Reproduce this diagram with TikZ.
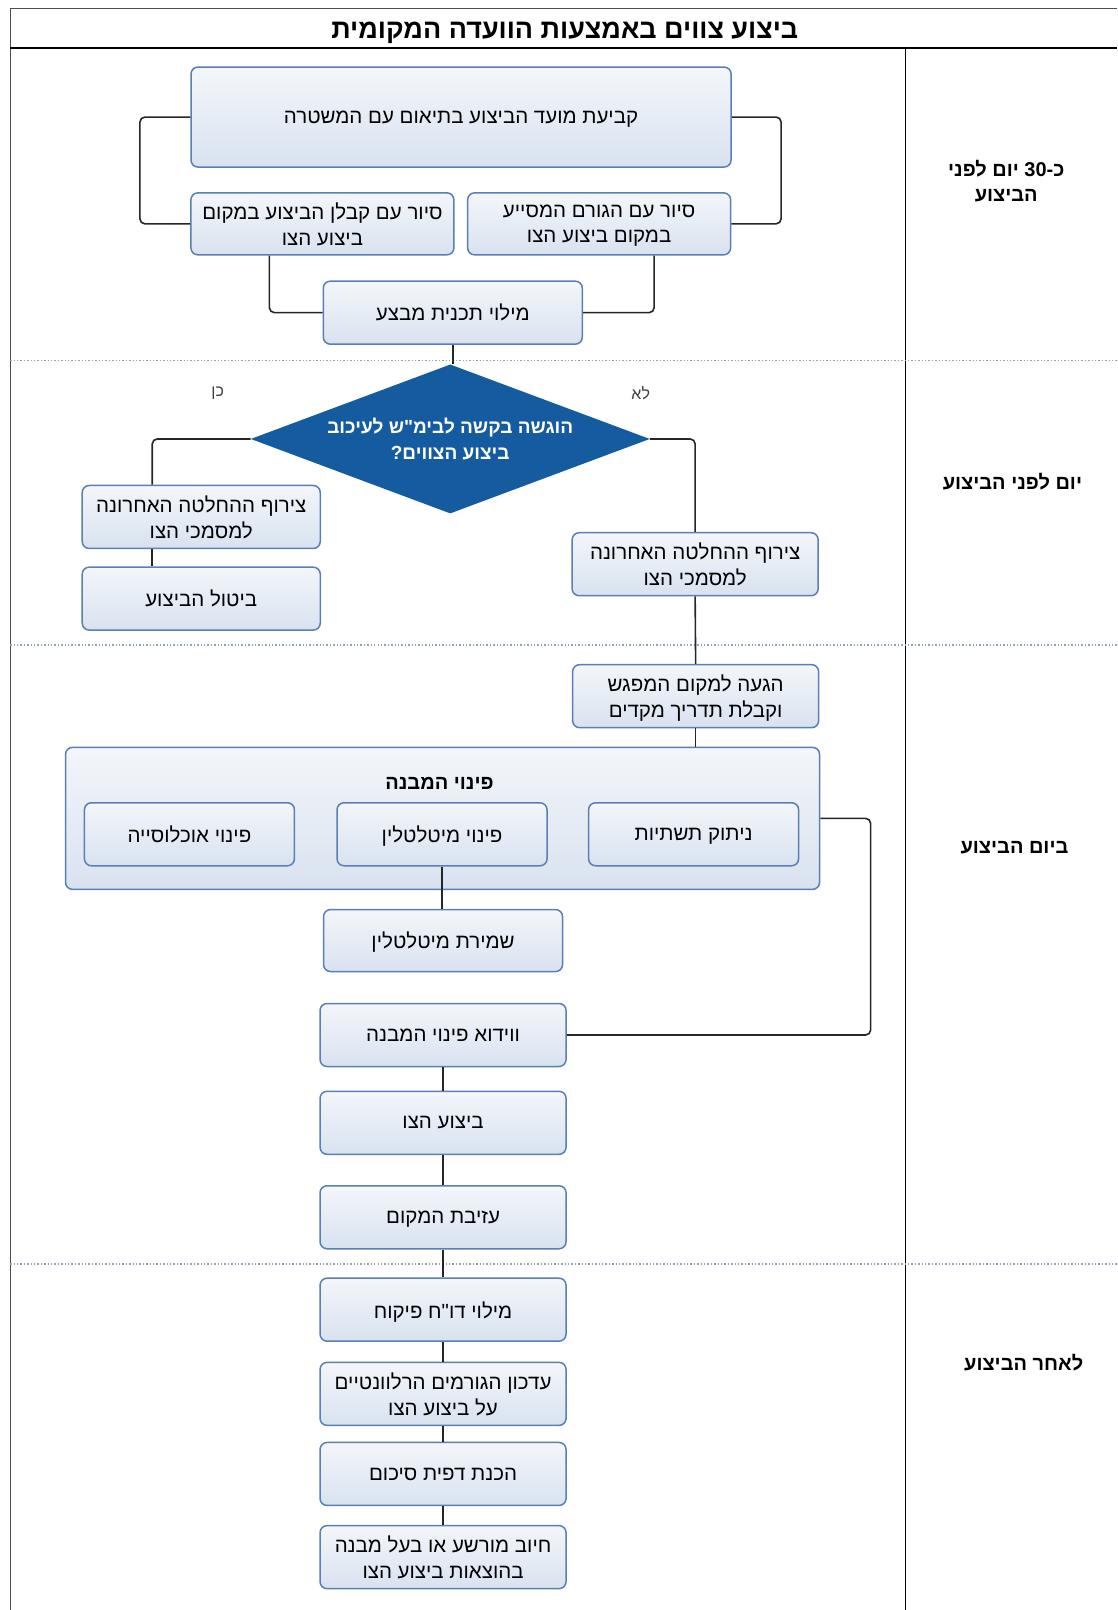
\documentclass[tikz,border=0pt]{standalone}
\usepackage{fontspec}
\setmainfont{Liberation Sans}
\newfontfamily\hebfont[Script=Hebrew]{Liberation Sans}
\TeXXeTstate=1
\usetikzlibrary{shapes.geometric}

\definecolor{boxline}{HTML}{5A7EB6}
\definecolor{boxfill}{HTML}{D8E2EF}
\definecolor{decision}{HTML}{155B9F}
\definecolor{lanesep}{HTML}{8EA3BE}

\newcommand{\heb}[1]{\beginR #1\endR}

\begin{document}
\begin{tikzpicture}[x=1.0267pt,y=-1.0267pt,
    font=\hebfont\fontsize{20.5}{25.7}\selectfont,
    box/.style = {rectangle,rounded corners=7pt,draw=boxline,line width=1.5pt,
                  top color=white!70!boxfill,bottom color=boxfill,align=center,
                  minimum width=246pt,minimum height=63pt,inner sep=2pt,text depth=0pt},
    decide/.style = {diamond,shape aspect=2.68,fill=decision,text=white,align=center,inner sep=0pt,
                  minimum width=399pt,minimum height=149pt,
                  font=\hebfont\bfseries\fontsize{19}{25.7}\selectfont},
    link/.style = {draw=black!85,line width=1.6pt,rounded corners=5pt},
    lane/.style = {align=center,font=\hebfont\bfseries\fontsize{20}{25}\selectfont},
    answer/.style = {text=black!75,font=\hebfont\fontsize{16}{18}\selectfont},
    sep/.style = {draw=lanesep,line width=1.4pt,dotted}]
\useasboundingbox (0,0) rectangle (1088,1568);

% frame and lanes
\draw[black!70,line width=1pt] (10,1568) -- (10,8) -- (1088,8);
\draw[black,line width=2pt] (10,47) -- (1088,47);
\draw[black,line width=1.2pt] (882,47) -- (882,1568);
\foreach \y in {351,628,1231}
    \draw[sep] (10,\y) -- (1088,\y);
\node[font=\hebfont\bfseries\fontsize{27}{32}\selectfont] (title) at (550,32) {\heb{ביצוע צווים באמצעות הוועדה המקומית}};
\node[lane] (lane30) at (980,176) {\heb{כ-\beginL 30\endL{} יום לפני}\\\heb{הביצוע}};
\node[lane] (laneEve) at (986,469) {\heb{יום לפני הביצוע}};
\node[lane] (laneDay) at (988,826) {\heb{ביום הביצוע}};
\node[lane] (laneAfter) at (997,1327) {\heb{לאחר הביצוע}};

% 30 days before
\node[box,minimum width=540pt,minimum height=100pt] (schedule) at (449,114) {\heb{קביעת מועד הביצוע בתיאום עם המשטרה}};
\node[box,minimum width=263pt,minimum height=62pt] (tourContractor) at (314,218) {\heb{סיור עם קבלן הביצוע במקום}\\\heb{ביצוע הצו}};
\node[box,minimum width=263pt,minimum height=62pt] (tourHelper) at (583.5,218) {\heb{סיור עם הגורם המסייע}\\\heb{במקום ביצוע הצו}};
\node[box,minimum width=259pt] (opPlan) at (441,304.5) {\heb{מילוי תכנית מבצע}};

% day before
\node[decide] (court) at (438.5,427.5) {\heb{הוגשה בקשה לבימ"ש לעיכוב}\\\heb{ביצוע הצווים?}};
\node[answer] (yes) at (212,383) {\heb{כן}};
\node[answer] (no) at (624,383) {\heb{לא}};
\node[box,minimum width=238pt] (attachYes) at (196,503.5) {\heb{צירוף ההחלטה האחרונה}\\\heb{למסמכי הצו}};
\node[box,minimum width=238pt] (cancel) at (196,583) {\heb{ביטול הביצוע}};
\node[box] (attachNo) at (677,549.5) {\heb{צירוף ההחלטה האחרונה}\\\heb{למסמכי הצו}};

% day of execution
\node[box] (arrive) at (677.5,678) {\heb{הגעה למקום המפגש}\\\heb{וקבלת תדריך מקדים}};
\node[box,minimum width=754pt,minimum height=142pt] (evac) at (431,797) {};
\node[font=\hebfont\bfseries\fontsize{20}{24}\selectfont] (evacTitle) at (428,763) {\heb{פינוי המבנה}};
\foreach \name/\x/\txt in {utilities/675.5/ניתוק תשתיות, movables/430.5/פינוי מיטלטלין, population/184.5/פינוי אוכלוסייה}
    \node[box,minimum width=210pt] (\name) at (\x,812.5) {\heb{\txt}};
\node[box,minimum width=239pt,minimum height=62pt] (keepMovables) at (431.5,916) {\heb{שמירת מיטלטלין}};
\node[box] (verify) at (431.5,1008) {\heb{ווידוא פינוי המבנה}};
\node[box] (execute) at (431.5,1093.5) {\heb{ביצוע הצו}};
\node[box] (leave) at (431.5,1185.5) {\heb{עזיבת המקום}};

% after execution
\node[box] (report) at (431.5,1275.5) {\heb{מילוי דו"ח פיקוח}};
\node[box] (update) at (431.5,1357.5) {\heb{עדכון הגורמים הרלוונטיים}\\\heb{על ביצוע הצו}};
\node[box] (summary) at (431.5,1435.5) {\heb{הכנת דפית סיכום}};
\node[box] (charge) at (431.5,1516.5) {\heb{חיוב מורשע או בעל מבנה}\\\heb{בהוצאות ביצוע הצו}};

% connectors
\draw[link] (schedule.west) -- ++(-49,0) |- (tourContractor.west);
\draw[link] (schedule.east) -- ++(48,0) |- (tourHelper.east);
\draw[link] ([xshift=-53pt]tourContractor.south) |- (opPlan.west);
\draw[link] ([xshift=55pt]tourHelper.south) |- (opPlan.east);
\draw[link] (opPlan.south) -- (opPlan.south |- court.north);
\draw[link] (court.west) -| ([xshift=-49pt]attachYes.north);
\draw[link] ([xshift=-49pt]attachYes.south) -- ([xshift=-49pt]cancel.north);
\draw[link] (court.east) -| (attachNo.north);
\draw[link] (attachNo.south) -- (arrive.north);
\draw[link] (arrive.south) -- (arrive.south |- evac.north);
\draw[link] (movables.south) -- (movables.south |- keepMovables.north);
\draw[link] (evac.east) -- ++(49,0) |- (verify.east);
\foreach \a/\b in {verify/execute, execute/leave, leave/report, report/update, update/summary, summary/charge}
    \draw[link] (\a.south) -- (\b.north);
\end{tikzpicture}
\end{document}
